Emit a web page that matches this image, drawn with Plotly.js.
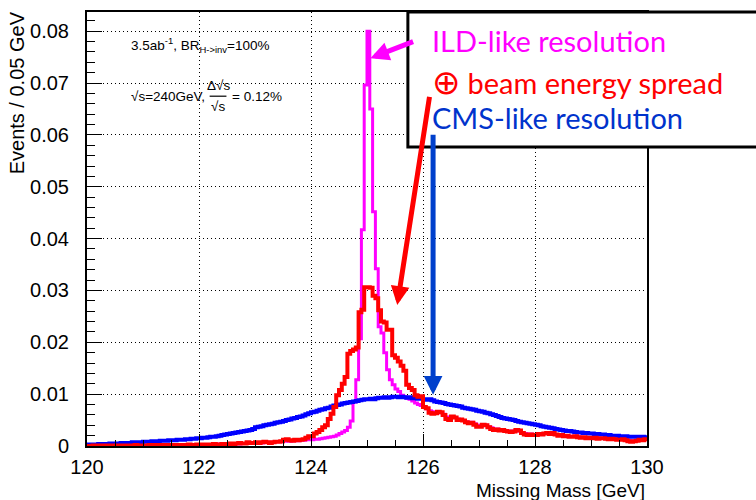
<!DOCTYPE html>
<html>
<head>
<meta charset="utf-8">
<script src="https://cdn.plot.ly/plotly-3.0.1.min.js"></script>
<style>html,body{margin:0;padding:0;background:#fff;}#chart{width:756px;height:500px;}</style>
</head>
<body>
<div id="chart"></div>
<script>
// Histogram: 200 bins of 0.05 GeV from 120 to 130
const massMin = 120;
const binWidth = 0.05;

// ILD-like resolution (magenta)
const ildValues = [
0.0000,0.0000,0.0000,0.0000,0.0000,0.0001,0.0000,0.0000,0.0001,0.0000,
0.0001,0.0000,0.0001,0.0001,0.0000,0.0001,0.0001,0.0001,0.0001,0.0001,
0.0001,0.0001,0.0001,0.0001,0.0002,0.0001,0.0001,0.0002,0.0001,0.0002,
0.0002,0.0001,0.0002,0.0002,0.0002,0.0002,0.0002,0.0002,0.0003,0.0002,
0.0002,0.0003,0.0003,0.0003,0.0003,0.0003,0.0003,0.0004,0.0003,0.0004,
0.0004,0.0004,0.0004,0.0005,0.0004,0.0005,0.0005,0.0005,0.0006,0.0005,
0.0006,0.0006,0.0006,0.0007,0.0007,0.0007,0.0007,0.0008,0.0008,0.0008,
0.0009,0.0009,0.0009,0.0010,0.0010,0.0010,0.0011,0.0011,0.0012,0.0012,
0.0012,0.0013,0.0013,0.0014,0.0015,0.0016,0.0017,0.0018,0.0019,0.0021,
0.0024,0.0027,0.0030,0.0036,0.0048,0.0085,0.0128,0.0207,0.0417,0.0696,
0.0800,0.0650,0.0452,0.0342,0.0230,0.0218,0.0180,0.0147,0.0128,0.0118,
0.0110,0.0105,0.0098,0.0095,0.0092,0.0090,0.0087,0.0083,0.0080,0.0078,
0.0076,0.0072,0.0068,0.0066,0.0064,0.0066,0.0064,0.0061,0.0056,0.0054,
0.0056,0.0055,0.0052,0.0051,0.0049,0.0047,0.0046,0.0046,0.0043,0.0040,
0.0039,0.0041,0.0040,0.0037,0.0035,0.0033,0.0033,0.0032,0.0031,0.0030,
0.0029,0.0029,0.0029,0.0030,0.0029,0.0026,0.0024,0.0023,0.0023,0.0022,
0.0022,0.0023,0.0023,0.0024,0.0024,0.0023,0.0024,0.0022,0.0021,0.0021,
0.0020,0.0020,0.0019,0.0019,0.0019,0.0018,0.0017,0.0017,0.0016,0.0016,
0.0016,0.0016,0.0015,0.0015,0.0015,0.0014,0.0014,0.0014,0.0013,0.0013,
0.0013,0.0013,0.0012,0.0011,0.0010,0.0010,0.0011,0.0012,0.0012,0.0013
];

// ILD-like + beam energy spread (red)
const beamValues = [
0.0000,0.0000,0.0001,0.0000,0.0001,0.0000,0.0001,0.0001,0.0000,0.0001,
0.0001,0.0001,0.0000,0.0001,0.0001,0.0001,0.0001,0.0002,0.0001,0.0001,
0.0001,0.0001,0.0002,0.0001,0.0002,0.0001,0.0002,0.0002,0.0001,0.0002,
0.0002,0.0002,0.0001,0.0002,0.0002,0.0002,0.0003,0.0002,0.0002,0.0003,
0.0002,0.0003,0.0003,0.0002,0.0003,0.0004,0.0003,0.0003,0.0004,0.0004,
0.0004,0.0005,0.0004,0.0005,0.0006,0.0005,0.0005,0.0007,0.0006,0.0006,
0.0007,0.0006,0.0007,0.0008,0.0007,0.0006,0.0007,0.0008,0.0008,0.0009,
0.0012,0.0013,0.0011,0.0010,0.0012,0.0011,0.0012,0.0013,0.0016,0.0019,
0.0019,0.0024,0.0027,0.0031,0.0036,0.0040,0.0052,0.0062,0.0075,0.0098,
0.0108,0.0120,0.0133,0.0178,0.0183,0.0186,0.0190,0.0258,0.0263,0.0306,
0.0306,0.0305,0.0290,0.0285,0.0262,0.0240,0.0238,0.0224,0.0224,0.0175,
0.0170,0.0163,0.0155,0.0145,0.0118,0.0112,0.0108,0.0098,0.0095,0.0096,
0.0075,0.0073,0.0064,0.0062,0.0063,0.0066,0.0065,0.0060,0.0052,0.0050,
0.0057,0.0055,0.0050,0.0051,0.0049,0.0046,0.0044,0.0045,0.0041,0.0037,
0.0037,0.0041,0.0040,0.0036,0.0033,0.0031,0.0032,0.0030,0.0031,0.0029,
0.0028,0.0027,0.0028,0.0031,0.0030,0.0025,0.0022,0.0021,0.0022,0.0021,
0.0021,0.0023,0.0022,0.0024,0.0025,0.0023,0.0025,0.0022,0.0020,0.0021,
0.0019,0.0020,0.0018,0.0018,0.0019,0.0017,0.0016,0.0017,0.0015,0.0016,
0.0015,0.0016,0.0014,0.0015,0.0015,0.0014,0.0013,0.0014,0.0013,0.0012,
0.0012,0.0013,0.0011,0.0009,0.0008,0.0009,0.0010,0.0012,0.0011,0.0013
];

// CMS-like resolution (blue)
const cmsValues = [
0.0003,0.0003,0.0003,0.0003,0.0004,0.0004,0.0004,0.0004,0.0005,0.0005,
0.0005,0.0005,0.0006,0.0006,0.0006,0.0006,0.0007,0.0007,0.0007,0.0007,
0.0008,0.0008,0.0008,0.0009,0.0009,0.0009,0.0010,0.0010,0.0010,0.0011,
0.0011,0.0011,0.0012,0.0012,0.0012,0.0013,0.0013,0.0014,0.0014,0.0015,
0.0015,0.0016,0.0016,0.0017,0.0018,0.0018,0.0019,0.0020,0.0021,0.0022,
0.0023,0.0024,0.0025,0.0026,0.0027,0.0028,0.0029,0.0030,0.0031,0.0033,
0.0036,0.0037,0.0038,0.0040,0.0041,0.0042,0.0043,0.0045,0.0046,0.0047,
0.0048,0.0050,0.0051,0.0053,0.0054,0.0056,0.0057,0.0059,0.0061,0.0063,
0.0065,0.0066,0.0068,0.0070,0.0071,0.0073,0.0074,0.0076,0.0078,0.0079,
0.0080,0.0082,0.0083,0.0084,0.0085,0.0086,0.0087,0.0088,0.0089,0.0090,
0.0090,0.0091,0.0090,0.0092,0.0093,0.0093,0.0094,0.0093,0.0094,0.0095,
0.0095,0.0094,0.0095,0.0094,0.0093,0.0094,0.0092,0.0092,0.0091,0.0091,
0.0090,0.0089,0.0090,0.0088,0.0086,0.0085,0.0084,0.0083,0.0081,0.0080,
0.0079,0.0078,0.0077,0.0076,0.0074,0.0073,0.0072,0.0071,0.0070,0.0068,
0.0067,0.0066,0.0064,0.0063,0.0061,0.0060,0.0058,0.0056,0.0054,0.0053,
0.0052,0.0051,0.0050,0.0048,0.0047,0.0046,0.0045,0.0044,0.0043,0.0042,
0.0041,0.0040,0.0038,0.0037,0.0036,0.0035,0.0034,0.0033,0.0032,0.0031,
0.0030,0.0029,0.0029,0.0028,0.0027,0.0026,0.0026,0.0025,0.0025,0.0024,
0.0024,0.0023,0.0023,0.0022,0.0022,0.0021,0.0021,0.0020,0.0020,0.0020,
0.0019,0.0019,0.0019,0.0018,0.0018,0.0018,0.0018,0.0017,0.0018,0.0017
];

const xTickVals = [120, 122, 124, 126, 128, 130];
const xTickText = ['120', '122', '124', '126', '128', '130'];
const yTickVals = [0, 0.01, 0.02, 0.03, 0.04, 0.05, 0.06, 0.07, 0.08];
const yTickText = ['0', '0.01', '0.02', '0.03', '0.04', '0.05', '0.06', '0.07', '0.08'];

const legendLabels = ['ILD-like resolution', 'beam energy spread', 'CMS-like resolution'];

function stepTrace(values, color, width) {
  const xs = [], ys = [];
  for (let i = 0; i < values.length; i++) {
    xs.push(+(massMin + i * binWidth).toFixed(3));
    ys.push(values[i]);
  }
  xs.push(+(massMin + values.length * binWidth).toFixed(3));
  ys.push(values[values.length - 1]);
  return {x: xs, y: ys, type: 'scatter', mode: 'lines',
    line: {shape: 'hv', color: color, width: width}, hoverinfo: 'skip', showlegend: false};
}

const traces = [
  stepTrace(ildValues, '#ff00ff', 3),
  stepTrace(cmsValues, '#0000ff', 4),
  stepTrace(beamValues, '#ff0000', 4)
];

const rootFont = 'Liberation Sans Narrow, Liberation Sans, Arial, sans-serif';
const tickFont = {family: rootFont, size: 20, color: '#000'};
const legFont = 'Lato, Open Sans, sans-serif';

const layout = {
  width: 756, height: 500,
  margin: {l: 87, r: 109, t: 12, b: 54},
  paper_bgcolor: '#fff', plot_bgcolor: '#fff',
  showlegend: false,
  xaxis: {
    range: [120, 130], tickvals: xTickVals, ticktext: xTickText,
    ticks: 'inside', ticklen: 12, tickwidth: 1, tickcolor: '#000',
    showline: true, linecolor: '#000', linewidth: 2, mirror: true,
    showgrid: true, gridcolor: '#000', griddash: '1px,3px', gridwidth: 1,
    zeroline: false, tickfont: tickFont, ticklabelstandoff: 2,
    minor: {dtick: 0.5, ticklen: 6, tickcolor: '#000', ticks: 'inside', showgrid: false}
  },
  yaxis: {
    range: [0, 0.0837], tickvals: yTickVals, ticktext: yTickText,
    ticks: 'inside', ticklen: 15, tickwidth: 1, tickcolor: '#000',
    showline: true, linecolor: '#000', linewidth: 2, mirror: true,
    showgrid: true, gridcolor: '#000', griddash: '1px,3px', gridwidth: 1,
    zeroline: false, tickfont: tickFont, ticklabelstandoff: 12,
    minor: {dtick: 0.002, ticklen: 8, tickcolor: '#000', ticks: 'inside', showgrid: false}
  },
  shapes: [
    {type: 'rect', xref: 'paper', yref: 'paper', x0: 0.573, x1: 1.25, y0: 0.689, y1: 1.0,
     fillcolor: '#fff', line: {color: '#000', width: 3}, layer: 'above'},
    // fraction bar
    {type: 'line', xref: 'paper', yref: 'paper', x0: 0.219, x1: 0.249, y0: 0.806, y1: 0.806,
     line: {color: '#000', width: 1.2}, layer: 'above'}
  ],
  annotations: [
    {xref: 'paper', yref: 'paper', x: 0.6125, y: 0.935, xanchor: 'left', yanchor: 'middle',
     text: legendLabels[0], showarrow: false, font: {family: legFont, size: 29, color: '#ff00ff'}},
    {xref: 'paper', yref: 'paper', x: 0.6125, y: 0.843, xanchor: 'left', yanchor: 'middle',
     text: '<span style="font-size:34px">\u2295</span> ' + legendLabels[1], showarrow: false,
     font: {family: legFont, size: 29, color: '#ff0000'}},
    {xref: 'paper', yref: 'paper', x: 0.6125, y: 0.758, xanchor: 'left', yanchor: 'middle',
     text: legendLabels[2], showarrow: false, font: {family: legFont, size: 29, color: '#0033cc'}},
    {xref: 'paper', yref: 'paper', x: 0.075, y: 0.925, xanchor: 'left', yanchor: 'middle',
     text: '3.5ab<sup>-1</sup>, BR<sub>H-&gt;inv</sub>=100%', showarrow: false,
     font: {family: rootFont, size: 13.5, color: '#000'}},
    {xref: 'paper', yref: 'paper', x: 0.075, y: 0.806, xanchor: 'left', yanchor: 'middle',
     text: '\u221As=240GeV,', showarrow: false,
     font: {family: rootFont, size: 13.5, color: '#000'}},
    {xref: 'paper', yref: 'paper', x: 0.234, y: 0.808, xanchor: 'center', yanchor: 'bottom',
     text: '\u0394\u221As', showarrow: false,
     font: {family: rootFont, size: 13.5, color: '#000'}},
    {xref: 'paper', yref: 'paper', x: 0.234, y: 0.804, xanchor: 'center', yanchor: 'top',
     text: '\u221As', showarrow: false,
     font: {family: rootFont, size: 13.5, color: '#000'}},
    {xref: 'paper', yref: 'paper', x: 0.255, y: 0.806, xanchor: 'left', yanchor: 'middle',
     text: '= 0.12%', showarrow: false,
     font: {family: rootFont, size: 13.5, color: '#000'}},
    // y axis title
    {xref: 'paper', yref: 'paper', x: -0.125, y: 1.005, xanchor: 'center', yanchor: 'top',
     text: 'Events / 0.05 GeV', textangle: -90, showarrow: false,
     font: {family: rootFont, size: 20, color: '#000'}},
    // x axis title
    {xref: 'paper', yref: 'paper', x: 1.0, y: -0.074, xanchor: 'right', yanchor: 'top',
     text: 'Missing Mass [GeV]', showarrow: false,
     font: {family: rootFont, size: 19, color: '#000'}},
    // arrows
    {xref: 'x', yref: 'y', axref: 'x', ayref: 'y', x: 125.06, y: 0.0748, ax: 125.85, ay: 0.0781,
     text: '', showarrow: true, arrowhead: 2, arrowsize: 0.75, arrowwidth: 5, arrowcolor: '#ff00ff'},
    {xref: 'x', yref: 'y', axref: 'x', ayref: 'y', x: 125.54, y: 0.0272, ax: 126.12, ay: 0.0676,
     text: '', showarrow: true, arrowhead: 2, arrowsize: 0.75, arrowwidth: 5, arrowcolor: '#ff0000'},
    {xref: 'x', yref: 'y', axref: 'x', ayref: 'y', x: 126.18, y: 0.0099, ax: 126.18, ay: 0.0603,
     text: '', showarrow: true, arrowhead: 2, arrowsize: 0.75, arrowwidth: 5, arrowcolor: '#0040cc'}
  ]
};

Plotly.newPlot('chart', traces, layout, {displayModeBar: false, staticPlot: true});
</script>
</body>
</html>
